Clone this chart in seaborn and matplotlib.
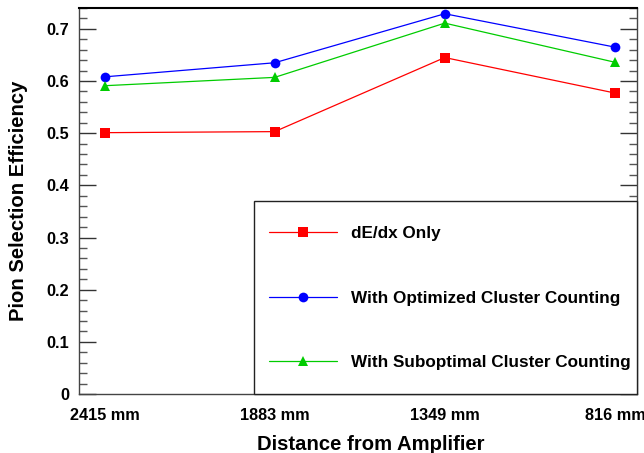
import matplotlib
matplotlib.use("Agg")
import matplotlib.pyplot as plt
from matplotlib.patches import Rectangle
from matplotlib.ticker import MultipleLocator
import seaborn as sns
import pandas as pd

distances = ["2415 mm", "1883 mm", "1349 mm", "816 mm"]
dedx_only = [0.501, 0.503, 0.645, 0.577]
optimized_cc = [0.608, 0.635, 0.729, 0.665]
suboptimal_cc = [0.591, 0.607, 0.711, 0.636]
series_names = ["dE/dx Only", "With Optimized Cluster Counting",
                "With Suboptimal Cluster Counting"]

rows = []
for name, vals in zip(series_names, [dedx_only, optimized_cc, suboptimal_cc]):
    for d, v in zip(distances, vals):
        rows.append({"Distance": d, "Efficiency": v, "Method": name})
df = pd.DataFrame(rows)

sns.set_style("white")
plt.rcParams["font.family"] = ["Liberation Sans", "DejaVu Sans"]
plt.rcParams["font.weight"] = "bold"
plt.rcParams["text.color"] = "black"
plt.rcParams["axes.labelcolor"] = "black"
plt.rcParams["xtick.color"] = "black"
plt.rcParams["ytick.color"] = "black"

fig = plt.figure(figsize=(6.44, 4.53), dpi=100)
ax = fig.add_axes([79 / 644, 59 / 453, 558 / 644, 386 / 453])

palette = {series_names[0]: "#ff0000", series_names[1]: "#0000ff",
           series_names[2]: "#00cc00"}
markers = {series_names[0]: "s", series_names[1]: "o", series_names[2]: "^"}

sns.lineplot(data=df, x="Distance", y="Efficiency", hue="Method",
             style="Method", markers=markers, dashes=False, palette=palette,
             linewidth=0.9, markersize=7, markeredgewidth=0, ax=ax,
             sort=False, legend=True)

ax.set_xlim(-0.15, 3.13)
ax.set_ylim(0, 0.740)
ax.yaxis.set_major_locator(MultipleLocator(0.1))
ax.yaxis.set_minor_locator(MultipleLocator(0.02))
ax.set_yticklabels([f"{t:g}" for t in ax.get_yticks()])
ax.set_ylim(0, 0.740)

ax.tick_params(axis="y", which="major", direction="in", length=12, width=1,
               color="#333333", labelcolor="black", left=True, right=True,
               labelsize=11.7, pad=7)
ax.tick_params(axis="y", which="minor", direction="in", length=6, width=1,
               color="#555555", left=True, right=True)
ax.tick_params(axis="x", which="both", length=0, labelsize=11.7, pad=10,
               labelcolor="black")
for lab in ax.get_xticklabels() + ax.get_yticklabels():
    lab.set_fontweight("bold")

for side in ["left", "right", "bottom"]:
    ax.spines[side].set_color("#444444")
    ax.spines[side].set_linewidth(1.0)
ax.spines["top"].set_color("#000000")
ax.spines["top"].set_linewidth(1.5)

ax.set_xlabel("Distance from Amplifier", fontsize=14.6, fontweight="bold",
              color="black")
ax.xaxis.set_label_coords(0.522, -0.106)
ax.set_ylabel("Pion Selection Efficiency", fontsize=14.6, fontweight="bold",
              color="black")
ax.yaxis.set_label_coords(-0.092, 0.5)

# Legend box in the lower-right corner of the frame
box = Rectangle((175 / 558, 0), 1 - 175 / 558, 0.5, transform=ax.transAxes,
                facecolor="white", edgecolor="#222222", linewidth=1.0,
                zorder=5, clip_on=False)
ax.add_patch(box)
handles, labels = ax.get_legend_handles_labels()
for h in handles:
    h.set_linewidth(0.9)
leg = ax.legend(handles, labels, loc="center left",
                bbox_to_anchor=(190 / 558, 96 / 386), frameon=False,
                borderpad=0, borderaxespad=0, handlelength=4.0,
                handletextpad=0.82, labelspacing=2.9,
                prop={"family": "Liberation Sans", "weight": "bold",
                      "size": 12.3})
for t in leg.get_texts():
    t.set_color("black")
leg.set_zorder(6)

fig.savefig("out.png", dpi=100)
